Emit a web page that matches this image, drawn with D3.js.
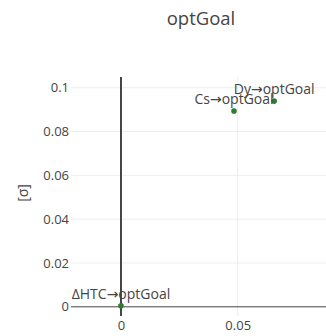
<!DOCTYPE html>
<html>
<head>
<meta charset="utf-8">
<script src="https://cdn.jsdelivr.net/npm/d3@7"></script>
<style>
  html, body { margin: 0; padding: 0; background: #fff; }
  svg { display: block; font-family: "Open Sans", "Noto Sans", sans-serif; }
</style>
</head>
<body>
<svg id="chart" width="326" height="336"></svg>
<script>
// Scatter points: effect on optGoal
const pointLabels = ["Dy\u2192optGoal", "Cs\u2192optGoal", "\u0394HTC\u2192optGoal"];
const xValues = [0.0656, 0.0484, 0.0];
const yValues = [0.0939, 0.0894, 0.0005];
const xTicks = [0, 0.05];
const yTicks = [0, 0.02, 0.04, 0.06, 0.08, 0.1];
const chartTitle = "optGoal";
const yTitle = "[\u03c3]";

const svg = d3.select("#chart");
const plot = { left: 71, right: 326, top: 77, bottom: 316 };

const x = d3.scaleLinear().domain([-0.0214, 0.0878]).range([plot.left, plot.right]);
const y = d3.scaleLinear().domain([-0.0042, 0.1049]).range([plot.bottom, plot.top]);

const textColor = "#444";
const gridColor = "#eee";
const pointColor = "#2a7d2e";

// grid
svg.append("g").selectAll("line").data(yTicks.filter(d => d !== 0)).join("line")
  .attr("x1", plot.left).attr("x2", plot.right)
  .attr("y1", d => y(d)).attr("y2", d => y(d))
  .attr("stroke", gridColor).attr("stroke-width", 1);
svg.append("g").selectAll("line").data(xTicks.filter(d => d !== 0)).join("line")
  .attr("x1", d => x(d)).attr("x2", d => x(d))
  .attr("y1", plot.top).attr("y2", plot.bottom)
  .attr("stroke", gridColor).attr("stroke-width", 1);

// zero lines
svg.append("line")
  .attr("x1", plot.left).attr("x2", plot.right)
  .attr("y1", y(0)).attr("y2", y(0))
  .attr("stroke", textColor).attr("stroke-width", 1);
svg.append("line")
  .attr("x1", x(0)).attr("x2", x(0))
  .attr("y1", plot.top).attr("y2", plot.bottom)
  .attr("stroke", textColor).attr("stroke-width", 2);

// axes (labels only)
const yAxis = d3.axisLeft(y).tickValues(yTicks).tickSize(0).tickPadding(2)
  .tickFormat(d => d === 0 ? "0" : d3.format("~g")(d));
const gy = svg.append("g").attr("transform", `translate(${plot.left},0)`).call(yAxis);
gy.select(".domain").remove();
gy.selectAll("text").attr("fill", textColor).attr("font-size", 13)
  .attr("font-family", '"Open Sans", "Noto Sans", sans-serif');

const xAxis = d3.axisBottom(x).tickValues(xTicks).tickSize(0).tickPadding(5)
  .tickFormat(d => d === 0 ? "0" : d3.format("~g")(d));
const gx = svg.append("g").attr("transform", `translate(0,${plot.bottom})`).call(xAxis);
gx.select(".domain").remove();
gx.selectAll("text").attr("fill", textColor).attr("font-size", 13)
  .attr("font-family", '"Open Sans", "Noto Sans", sans-serif');

// title
svg.append("text")
  .attr("x", 201).attr("y", 25)
  .attr("text-anchor", "middle")
  .attr("fill", textColor).attr("font-size", 18.5)
  .text(chartTitle);

// y axis title
svg.append("text")
  .attr("transform", `translate(28,193) rotate(-90)`)
  .attr("text-anchor", "middle")
  .attr("fill", textColor).attr("font-size", 14)
  .text(yTitle);

// points
const data = pointLabels.map((l, i) => ({ label: l, x: xValues[i], y: yValues[i] }));
const g = svg.append("g");
g.selectAll("circle").data(data).join("circle")
  .attr("cx", d => x(d.x)).attr("cy", d => y(d.y))
  .attr("r", 2.8).attr("fill", pointColor);

// labels: arrow glyph drawn in DejaVu Sans for a full-width arrow
const labels = g.selectAll("text.lbl").data(data).join("text")
  .attr("class", "lbl")
  .attr("x", d => x(d.x)).attr("y", d => y(d.y) - 7)
  .attr("text-anchor", "middle")
  .attr("fill", textColor).attr("font-size", 14);
labels.each(function(d) {
  const parts = d.label.split("\u2192");
  const t = d3.select(this);
  t.append("tspan").text(parts[0]);
  t.append("tspan").attr("font-family", '"DejaVu Sans", sans-serif').text("\u2192");
  t.append("tspan").text(parts[1]);
});
</script>
</body>
</html>
